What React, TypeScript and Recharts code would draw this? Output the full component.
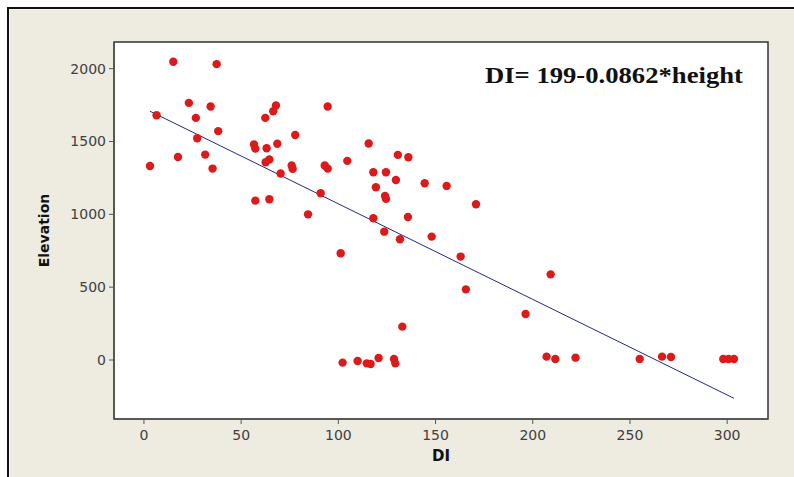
import React from 'react';
import { ScatterChart, Scatter, XAxis, YAxis, ReferenceArea, ReferenceDot } from 'recharts';

const diValues = [
  3.1, 6.5, 15.1, 17.5, 23.1, 26.7, 27.4, 31.5, 34.3, 35.3, 37.4, 38.2,
  56.6, 57.3, 57.3, 62.4, 62.6, 63.1, 64.5, 64.5, 66.5, 67.9, 68.6, 70.3,
  76.0, 76.5, 77.8, 84.4, 90.9, 93.0, 94.5, 94.5, 101.2, 102.2, 104.6, 109.9,
  114.6, 116.6, 115.6, 118.0, 118.0, 119.3, 120.7, 123.6, 124.0, 124.5, 124.5, 128.6,
  129.3, 129.6, 130.6, 131.7, 132.9, 135.8, 136.0, 144.4, 148.0, 155.7, 162.9, 165.6,
  170.8, 196.3, 207.1, 209.2, 211.6, 222.0, 255.0, 266.5, 271.1, 298.0, 300.7, 303.5,
];
const elevationValues = [
  1332, 1680, 2047, 1394, 1765, 1662, 1522, 1410, 1740, 1314, 2031, 1571,
  1479, 1451, 1094, 1662, 1358, 1454, 1376, 1104, 1708, 1747, 1484, 1280,
  1335, 1312, 1545, 1000, 1145, 1335, 1314, 1740, 733, -18, 1367, -7,
  -23, -27, 1486, 1289, 973, 1186, 14, 881, 1126, 1106, 1289, 7,
  -23, 1236, 1408, 829, 229, 982, 1392, 1213, 847, 1195, 710, 485,
  1069, 316, 23, 588, 7, 16, 7, 23, 21, 7, 7, 7,
];
const fitLineDI = [3.1, 303.5];
const fitLineElevation = [1708, -263];
const xTicks = [0, 50, 100, 150, 200, 250, 300];
const yTicks = [0, 500, 1000, 1500, 2000];
const xDomain = [-15.4, 321];
const yDomain = [-405, 2183];
const equationText = 'DI= 199-0.0862*height';
const equationAnchor = { x: 175.4, y: 1902 };

const points = diValues.map((x, i) => ({ x, y: elevationValues[i] }));
const fitLine = fitLineDI.map((x, i) => ({ x, y: fitLineElevation[i] }));

const tickStyle = { fontFamily: 'DejaVu Sans', fontSize: 14, fill: '#404040' };

const Dot = (p: any) => <circle cx={p.cx} cy={p.cy} r={4.2} fill="#dc1a1a" />;
const NoShape = () => <g />;

const YLabel = (props: any) => {
  const vb = props.viewBox || {};
  const x = vb.x + 44;
  const y = vb.y + vb.height / 2;
  return (
    <text x={x} y={y} transform={`rotate(-90, ${x}, ${y})`} textAnchor="middle" dominantBaseline="central"
      style={{ fontFamily: 'DejaVu Sans', fontSize: 14, fontWeight: 'bold', fill: '#111' }}>
      Elevation
    </text>
  );
};

const XLabel = (props: any) => {
  const vb = props.viewBox || {};
  const x = vb.x + vb.width / 2;
  const y = vb.y + 42;
  return (
    <text x={x} y={y} textAnchor="middle"
      style={{ fontFamily: 'DejaVu Sans', fontSize: 15, fontWeight: 'bold', fill: '#111' }}>
      DI
    </text>
  );
};

const Equation = (props: any) => {
  const vb = props.viewBox || {};
  const x = vb.x + (vb.width || 0) / 2;
  const y = vb.y + (vb.height || 0) / 2;
  return (
    <text x={x} y={y} textLength={258} lengthAdjust="spacingAndGlyphs"
      style={{ fontFamily: 'Liberation Serif', fontSize: 23, fontWeight: 'bold', fill: '#111' }}>
      {equationText}
    </text>
  );
};

export default function App() {
  return (
    <div style={{ position: 'absolute', left: 0, top: 0, width: 794, height: 477, background: '#ffffff', overflow: 'hidden' }}>
      <div style={{ position: 'absolute', left: 7, top: 7, width: 800, height: 480, background: '#eeebe1', borderTop: '2px solid #111', borderLeft: '2px solid #111', boxShadow: 'inset 1px 1px 0 #f8f6f0' }} />
      <div style={{ position: 'absolute', left: 0, top: 0 }}>
        <ScatterChart width={794} height={477} margin={{ top: 42, right: 26, bottom: 0, left: 0 }}>
          <ReferenceArea x1={xDomain[0]} x2={xDomain[1]} y1={yDomain[0]} y2={yDomain[1]} fill="#ffffff" fillOpacity={1} stroke="#333" strokeWidth={1.5} ifOverflow="visible" />
          <XAxis type="number" dataKey="x" domain={xDomain} ticks={xTicks} allowDataOverflow height={58}
            axisLine={{ stroke: '#555', strokeWidth: 1.5 }} tickLine={{ stroke: '#555' }} tickSize={5} tickMargin={6}
            tick={tickStyle} label={<XLabel />} />
          <YAxis type="number" dataKey="y" domain={yDomain} ticks={yTicks} allowDataOverflow width={114}
            axisLine={{ stroke: '#555', strokeWidth: 1.5 }} tickLine={{ stroke: '#555' }} tickSize={5} tickMargin={3}
            tick={tickStyle} label={<YLabel />} />
          <Scatter data={fitLine} line={{ stroke: '#26268c', strokeWidth: 1 }} shape={NoShape} isAnimationActive={false} />
          <Scatter data={points} shape={Dot} isAnimationActive={false} />
          <ReferenceDot x={equationAnchor.x} y={equationAnchor.y} r={0} fill="none" stroke="none" label={<Equation />} />
        </ScatterChart>
      </div>
    </div>
  );
}
